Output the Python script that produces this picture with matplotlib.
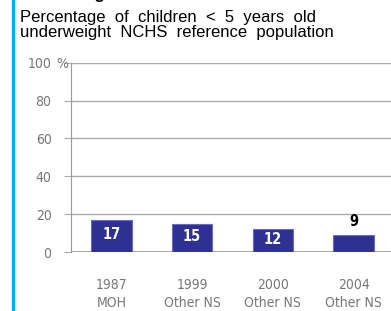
import matplotlib
matplotlib.use("Agg")
import matplotlib.pyplot as plt
from matplotlib import font_manager as fm

categories = ["1987\nMOH", "1999\nOther NS", "2000\nOther NS", "2004\nOther NS"]
values = [17, 15, 12, 9]
yticks = [0, 20, 40, 60, 80, 100]
ytick_labels = ["0", "20", "40", "60", "80", "100"]

W, H = 391, 311
fig = plt.figure(figsize=(W/100, H/100), dpi=100)

narrow = dict(family='DejaVu Sans', stretch='condensed')

# left cyan bar
fig.add_artist(plt.Line2D([12.5/W, 12.5/W], [0, 1], color='#00AEEF', lw=2.4))

fig.text(20/W, 1 + 0.5/H, "Underweight children", fontsize=12, fontweight='bold',
         family='Liberation Sans', va='baseline', ha='left')
fig.text(20/W, 1 - 22/H, "Percentage  of  children  <  5  years  old",
         fontsize=12, family='Liberation Sans', va='baseline', ha='left')
fig.text(20/W, 1 - 37.5/H, "underweight  NCHS  reference  population",
         fontsize=12, family='Liberation Sans', va='baseline', ha='left')

ax = fig.add_axes([71/W, 59/H, (394-71)/W, 189.3/H])
x = range(len(values))
bars = ax.bar(x, values, width=0.5, color='#2E3192', edgecolor='#6a6cc0', linewidth=0.8, zorder=3)
ax.set_xlim(-0.5, 3.5)
ax.set_ylim(0, 100)
ax.set_yticks(yticks)
ax.set_yticklabels(ytick_labels)
ax.yaxis.grid(True, color='#aaaaaa', lw=1)
ax.set_axisbelow(True)
for s in ['top', 'right', 'bottom']:
    ax.spines[s].set_visible(False)
ax.spines['left'].set_color('#999999')
ax.axhline(0, color='#999999', lw=1.2, zorder=2)
ax.tick_params(axis='y', length=5, color='#aaaaaa', labelcolor='#777777', pad=9)
ax.tick_params(axis='x', length=0, labelcolor='#777777', pad=19)
ax.set_xticks(list(x))
ax.set_xticklabels(categories, linespacing=1.3)
for lab in ax.get_yticklabels() + ax.get_xticklabels():
    lab.set_fontproperties(fm.FontProperties(size=10, **narrow))
fig.text(56/W, 1 - 64/H, "%", fontsize=10, color='#777777', va='center', ha='left', **narrow)

for i, v in enumerate(values):
    if v >= 10:
        ax.text(i, v/2 + 0.7, str(v), ha='center', va='center', color='white', fontweight='bold',
                fontsize=10.5, **narrow)
    else:
        ax.text(i, v + 3.0, str(v), ha='center', va='bottom', color='black', fontweight='bold',
                fontsize=10.5, **narrow)

fig.savefig("out.png", dpi=100)
